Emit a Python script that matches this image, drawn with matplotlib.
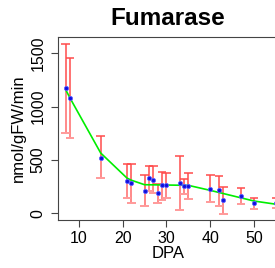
import numpy as np
import matplotlib.pyplot as plt

plt.rcParams['font.family'] = ['Liberation Sans', 'DejaVu Sans']

# measured activity per sampling day
dpa = [7, 8, 15, 21, 22, 25, 26, 27, 28, 29, 30, 33, 34, 35, 40, 42, 43, 47, 50, 55]
activity = [1172, 1084, 521, 306, 287, 212, 328, 312, 193, 262, 262, 287, 256, 256,
            231, 215, 128, 162, 94, 100]
err_hi = [1587, 1453, 722, 459, 465, 356, 440, 440, 272, 390, 375, 537, 325, 381,
          362, 353, 247, 234, 143, 143]
err_lo = [750, 703, 328, 141, 94, 68, 206, 187, 100, 125, 144, 31, 181, 131,
          106, 68, -9, 87, 37, 53]

# smoothed trend
fit_x = [7, 8, 15, 21, 22, 25, 30, 35, 40, 43, 47, 50, 55]
fit_y = [1160, 1080, 565, 330, 310, 268, 265, 262, 215, 185, 145, 115, 85]

fig = plt.figure(figsize=(2.75, 2.68), dpi=100)
ax = fig.add_axes([0.21, 0.179, 0.80, 0.682])

x = np.array(dpa)
y = np.array(activity)
hi = np.array(err_hi)
lo = np.array(err_lo)

# upper halves red, lower halves a little paler (as in the original)
ax.vlines(x, lo, y, color='#ff8080', lw=1.3, zorder=2)
ax.hlines(lo, x - 1.0, x + 1.0, color='#ff9a9a', lw=1.4, zorder=2)
ax.vlines(x, y, hi, color='#ff4c4c', lw=1.1, zorder=3)
ax.hlines(hi, x - 1.0, x + 1.0, color='#ff4c4c', lw=1.1, zorder=3)

ax.plot(fit_x, fit_y, color='#00ee00', lw=1.2, zorder=4)
ax.plot(x, y, 'o', color='#1010dd', ms=3, mec='#6060ff', mew=0.6, zorder=5)

ax.set_xlim(5.2, 55.4)
ax.set_ylim(-63, 1650)
ax.set_xticks([10, 20, 30, 40, 50])
ax.set_yticks([0, 500, 1000, 1500])
ax.tick_params(axis='y', labelrotation=90, length=5, color='#444444', labelsize=11.5, pad=4)
ax.tick_params(axis='x', length=5, color='#444444', labelsize=11.5, pad=3)
for lab in ax.get_yticklabels():
    lab.set_va('center')
for s in ax.spines.values():
    s.set_color('#444444')

ax.set_xlabel('DPA', fontsize=12, labelpad=0)
ax.set_ylabel('nmol/gFW/min', fontsize=12, labelpad=3)
fig.text(0.61, 0.93, 'Fumarase', ha='center', va='center', fontsize=17.5, fontweight='bold')

fig.savefig('out.png', dpi=100)
